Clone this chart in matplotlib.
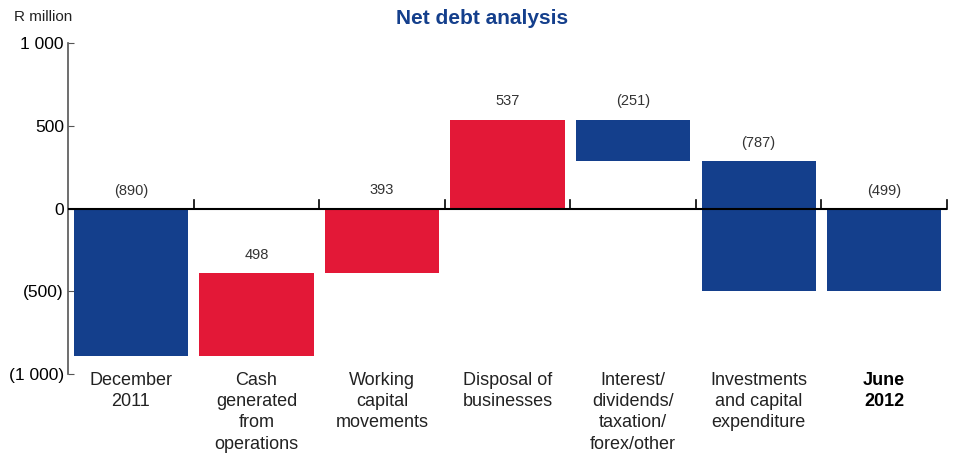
import matplotlib
matplotlib.use("Agg")
import matplotlib.pyplot as plt
import numpy as np

plt.rcParams['font.family'] = ['Liberation Sans', 'DejaVu Sans']

categories = ["December\n2011", "Cash\ngenerated\nfrom\noperations", "Working\ncapital\nmovements",
              "Disposal of\nbusinesses", "Interest/\ndividends/\ntaxation/\nforex/other",
              "Investments\nand capital\nexpenditure", "June\n2012"]
changes = [-890, 498, 393, 537, -251, -787, -499]
value_labels = ["(890)", "498", "393", "537", "(251)", "(787)", "(499)"]
kinds = ["total", "delta", "delta", "delta", "delta", "delta", "total"]
yticks = [1000, 500, 0, -500, -1000]
ytick_labels = ["1 000", "500", "0", "(500)", "(1 000)"]

BLUE = "#143F8C"
RED = "#E31837"

fig = plt.figure(figsize=(9.54, 4.54), dpi=100)
ax = fig.add_axes([0.0713, 0.176, 0.9214, 0.729])

running = 0
x = np.arange(len(categories))
for i, (c, k) in enumerate(zip(changes, kinds)):
    if k == "total":
        bottom, height = 0, c
        running = c
    else:
        bottom, height = running, c
        running = running + c
    color = RED if c > 0 else BLUE
    ax.bar(i, height, bottom=bottom, width=0.91, color=color, zorder=2)
    top = max(bottom, bottom + height)
    ax.annotate(value_labels[i], (i, top), xytext=(0, 8), textcoords="offset points",
                ha="center", va="bottom", fontsize=10.5, color="#333333")

ax.set_xlim(-0.5, len(categories) - 0.5)
ax.set_ylim(-1000, 1000)

# zero line with upward ticks at boundaries
ax.axhline(0, color="black", lw=1.5, zorder=3)
for b in np.arange(0.5, len(categories), 1.0):
    ax.plot([b, b], [0, 55], color="black", lw=1.2, zorder=3, clip_on=False)

for s in ["top", "right", "bottom"]:
    ax.spines[s].set_visible(False)
ax.spines["left"].set_color("#555555")
ax.spines["left"].set_linewidth(1.2)
ax.set_xticks([])
ax.set_yticks(yticks)
ax.set_yticklabels(ytick_labels, fontsize=12.5)
ax.tick_params(axis="y", direction="in", length=4, color="#555555", pad=3)

for i, lab in enumerate(categories):
    bold = (i == len(categories) - 1)
    ax.text(i, -985, lab, ha="center", va="top", fontsize=13, linespacing=1.34,
            color="black" if bold else "#222222", fontweight="bold" if bold else "normal")

fig.text(0.015, 0.962, "R million", fontsize=11, ha="left", va="center", color="#222222")
fig.text(0.505, 0.960, "Net debt analysis", fontsize=15, fontweight="bold",
         ha="center", va="center", color=BLUE)

fig.savefig("out.png", dpi=100)
